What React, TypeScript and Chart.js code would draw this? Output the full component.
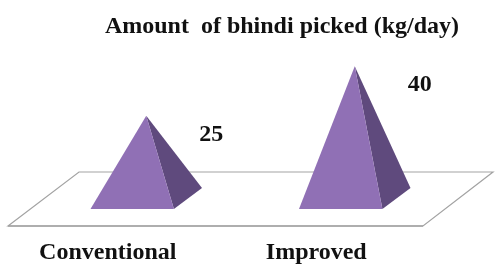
import React, { useEffect, useRef } from "react";
import { Chart, registerables } from "chart.js";

Chart.register(...registerables);

const categories = ["Conventional", "Improved"];
const values = [25, 40];
const titleText = "Amount  of bhindi picked (kg/day)";

const FONT = "'Liberation Serif', serif";

const pyramidPlugin = {
  id: "pyramids",
  beforeDatasetsDraw(chart: any) {
    const { ctx, scales } = chart;
    const zero = scales.y.getPixelForValue(0);
    ctx.save();
    ctx.strokeStyle = "#a3a3a3";
    ctx.lineWidth = 1.2;
    ctx.beginPath();
    ctx.moveTo(8, zero + 27.5);
    ctx.lineTo(79, zero - 26.5);
    ctx.lineTo(493, zero - 26.5);
    ctx.lineTo(423, zero + 27.5);
    ctx.closePath();
    ctx.stroke();
    ctx.lineWidth = 1.6;
    ctx.beginPath();
    ctx.moveTo(8, zero + 27.5);
    ctx.lineTo(423, zero + 27.5);
    ctx.stroke();
    ctx.restore();
  },
  afterDatasetsDraw(chart: any) {
    const { ctx } = chart;
    const meta = chart.getDatasetMeta(0);
    ctx.save();
    meta.data.forEach((el: any, i: number) => {
      const half = el.width / 2;
      const dx = el.width * 0.337;
      const dy = el.width * 0.253;
      const fx = el.x - dx / 2;
      const fy = el.base + dy / 2;
      const lx = fx - half;
      const rx = fx + half;
      ctx.fillStyle = "#5f4a7d";
      ctx.beginPath();
      ctx.moveTo(el.x, el.y);
      ctx.lineTo(rx, fy);
      ctx.lineTo(rx + dx, fy - dy);
      ctx.closePath();
      ctx.fill();
      ctx.fillStyle = "#9070b5";
      ctx.beginPath();
      ctx.moveTo(el.x, el.y);
      ctx.lineTo(lx, fy);
      ctx.lineTo(rx, fy);
      ctx.closePath();
      ctx.fill();
      ctx.fillStyle = "#111";
      ctx.font = `bold 24px ${FONT}`;
      ctx.textAlign = "center";
      ctx.textBaseline = "middle";
      ctx.fillText(String(values[i]), el.x + 65, el.y + 18.5);
    });
    ctx.restore();
  },
};

export default function App() {
  const ref = useRef<HTMLCanvasElement | null>(null);
  useEffect(() => {
    document.body.style.margin = "0";
    const chart = new Chart(ref.current as HTMLCanvasElement, {
      type: "bar",
      data: {
        labels: categories,
        datasets: [
          {
            data: values,
            backgroundColor: "rgba(0,0,0,0)",
            barPercentage: 0.4,
            categoryPercentage: 1,
          },
        ],
      },
      options: {
        responsive: false,
        animation: false,
        layout: { padding: { left: 42, right: 41, top: 0, bottom: 0 } },
        plugins: {
          legend: { display: false },
          tooltip: { enabled: false },
          title: {
            display: true,
            text: titleText,
            align: "end",
            color: "#111",
            font: { family: FONT, size: 24, weight: "bold" },
            padding: { top: 12, bottom: -1 },
          },
        },
        scales: {
          x: {
            grid: { display: false },
            border: { display: false },
            afterFit(scale: any) {
              scale.height = 74.5;
            },
            ticks: {
              color: "#111",
              font: { family: FONT, size: 24, weight: "bold" },
              labelOffset: -38.5,
              padding: 32,
              maxRotation: 0,
            },
          },
          y: { display: false, min: 0, max: 48 },
        },
      },
      plugins: [pyramidPlugin],
    } as any);
    return () => chart.destroy();
  }, []);
  return <canvas ref={ref} width={500} height={273} style={{ display: "block" }} />;
}
